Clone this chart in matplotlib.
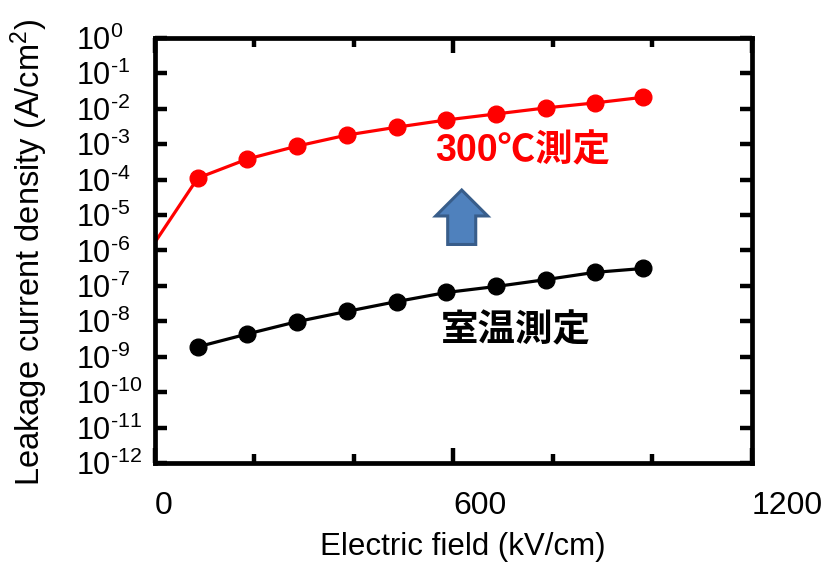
import numpy as np
import matplotlib.pyplot as plt
from matplotlib.patches import FancyArrow
from matplotlib.ticker import FixedLocator, MultipleLocator, FuncFormatter

plt.rcParams['font.family'] = ['Liberation Sans', 'Noto Sans CJK JP', 'DejaVu Sans']
plt.rcParams['mathtext.fontset'] = 'custom'
plt.rcParams['mathtext.rm'] = 'Liberation Sans'
plt.rcParams['mathtext.it'] = 'Liberation Sans'

# data
field = [86, 186, 286, 386, 486, 586, 686, 786, 884, 982]
j_300c = [1.1e-4, 3.8e-4, 8.8e-4, 1.8e-3, 3.0e-3, 4.8e-3, 7.1e-3, 1.05e-2, 1.45e-2, 2.1e-2]
j_300c_start = 1.7e-6  # line begins at E = 0 without a marker
j_rt = [1.9e-9, 4.4e-9, 9.8e-9, 1.9e-8, 3.6e-8, 6.5e-8, 9.6e-8, 1.5e-7, 2.4e-7, 3.1e-7]

label_300c = '300℃測定'
label_rt = '室温測定'


def dec_label(v, pos):
    k = int(round(np.log10(v)))
    exp = str(k).replace('-', '\u2010')
    return r'$\mathregular{10^{%s}}$' % exp


fig = plt.figure(figsize=(8.27, 5.64), dpi=100)
ax = fig.add_axes([0.1874, 0.179, 0.7216, 0.754])

ax.plot([0] + field, [j_300c_start] + j_300c, color='#ff0000', lw=2.3)
ax.plot(field, j_300c, 'o', color='#ff0000', ms=12, ls='none')
ax.plot(field, j_rt, '-o', color='black', lw=2.3, ms=12)

ax.set_yscale('log')
ax.set_xlim(0, 1200)
ax.set_ylim(1e-12, 1e0)

ax.xaxis.set_major_locator(FixedLocator([0, 600, 1200]))
ax.xaxis.set_minor_locator(MultipleLocator(200))
ax.yaxis.set_major_locator(FixedLocator([10.0 ** k for k in range(-12, 1)]))
ax.yaxis.set_minor_locator(FixedLocator([]))
ax.yaxis.set_major_formatter(FuncFormatter(dec_label))

for s in ax.spines.values():
    s.set_linewidth(3.4)
ax.tick_params(which='both', direction='in', top=True, right=True, width=3.2)
ax.tick_params(axis='x', which='major', length=11, pad=20, labelsize=23)
ax.tick_params(axis='x', which='minor', length=6.5)
ax.tick_params(axis='y', which='major', length=8.5, pad=57, labelsize=22)
for lab in ax.get_yticklabels():
    lab.set_horizontalalignment('left')
for lab in ax.get_xticklabels():
    lab.set_horizontalalignment('left')

ax.set_xlabel('Electric field (kV/cm)', fontsize=22.5)
ax.set_ylabel(r'Leakage current density (A/cm$\mathregular{^2}$)', fontsize=23.5)
ax.xaxis.set_label_coords(0.515, -0.163)
ax.yaxis.set_label_coords(-0.176, 0.495)

ax.text(740, 6.2e-4, label_300c, color='#ff0000', fontsize=27,
        fontweight='bold', ha='center', va='center')
ax.text(726, 5.3e-9, label_rt, color='black', fontsize=27,
        fontweight='bold', ha='center', va='center')

# block arrow between the two labels
arrow = FancyArrow(0.514, 0.514, 0, 0.128, width=0.047, head_width=0.087,
                   head_length=0.061, length_includes_head=True,
                   transform=ax.transAxes, facecolor='#4f81bd',
                   edgecolor='#385d8a', lw=2.2)
ax.add_patch(arrow)

fig.savefig('out.png', dpi=100)
